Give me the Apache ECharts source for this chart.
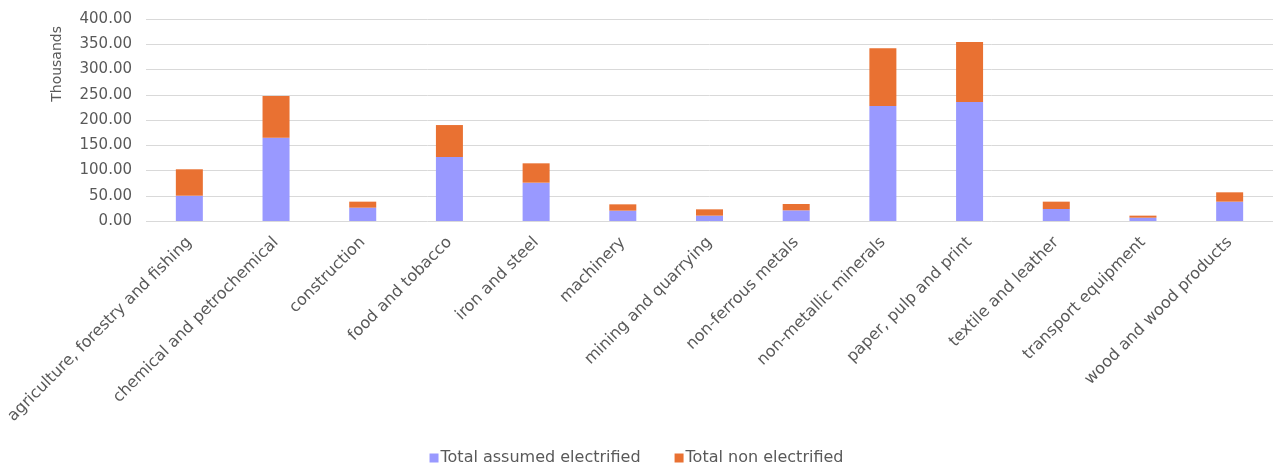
<!DOCTYPE html>
<html>
<head>
<meta charset="utf-8">
<script src="https://cdn.jsdelivr.net/npm/echarts@6/dist/echarts.min.js"></script>
<style>
  html, body { margin: 0; padding: 0; background: #fff; }
  #chart { width: 1273px; height: 463px; }
</style>
</head>
<body>
<div id="chart"></div>
<script>
// Industrial sectors
const categories = [
  'agriculture, forestry and fishing',
  'chemical and petrochemical',
  'construction',
  'food and tobacco',
  'iron and steel',
  'machinery',
  'mining and quarrying',
  'non-ferrous metals',
  'non-metallic minerals',
  'paper, pulp and print',
  'textile and leather',
  'transport equipment',
  'wood and wood products'
];

// Values in thousands
const electrified = [50.1, 165.0, 26.4, 126.7, 75.9, 20.5, 10.6, 21.1, 227.7, 235.6, 23.8, 6.6, 38.3];
const nonElectrified = [52.3, 82.5, 11.9, 63.3, 38.3, 12.5, 12.5, 12.6, 114.3, 118.9, 14.5, 4.0, 18.5];

const yTicks = { min: 0, max: 400, interval: 50 };

const textColor = '#595959';
const font = 'DejaVu Sans';

const chart = echarts.init(document.getElementById('chart'), null, { renderer: 'canvas' });

chart.setOption({
  animation: false,
  textStyle: { fontFamily: font },
  grid: { left: 146, right: 0, top: 19, bottom: 242, containLabel: false, outerBoundsMode: 'none' },
  legend: {
    top: 445,
    left: 'center',
    icon: 'rect',
    itemWidth: 9,
    itemHeight: 9,
    itemGap: 34,
    textStyle: { color: textColor, fontSize: 16, fontFamily: font, padding: [0, 0, 0, -3] },
    data: ['Total assumed electrified', 'Total non electrified']
  },
  graphic: [{
    type: 'text',
    left: 50,
    top: 26,
    rotation: Math.PI / 2,
    style: { text: 'Thousands', fill: textColor, font: '14px "DejaVu Sans"' }
  }],
  xAxis: {
    type: 'category',
    data: categories,
    axisLine: { show: false },
    axisTick: { show: false },
    axisLabel: {
      rotate: 45,
      interval: 0,
      color: textColor,
      fontSize: 16,
      fontFamily: font,
      margin: 19
    }
  },
  yAxis: {
    type: 'value',
    min: yTicks.min,
    max: yTicks.max,
    interval: yTicks.interval,
    axisLine: { show: false },
    axisTick: { show: false },
    splitLine: { lineStyle: { color: '#d9d9d9', width: 1 } },
    axisLabel: {
      color: textColor,
      fontSize: 15,
      fontFamily: font,
      margin: 14,
      formatter: v => v.toFixed(2)
    }
  },
  series: [
    {
      name: 'Total assumed electrified',
      type: 'bar',
      stack: 'total',
      barWidth: 27,
      itemStyle: { color: '#9999FF' },
      data: electrified
    },
    {
      name: 'Total non electrified',
      type: 'bar',
      stack: 'total',
      barWidth: 27,
      itemStyle: { color: '#E97132' },
      data: nonElectrified
    }
  ]
});
</script>
</body>
</html>
